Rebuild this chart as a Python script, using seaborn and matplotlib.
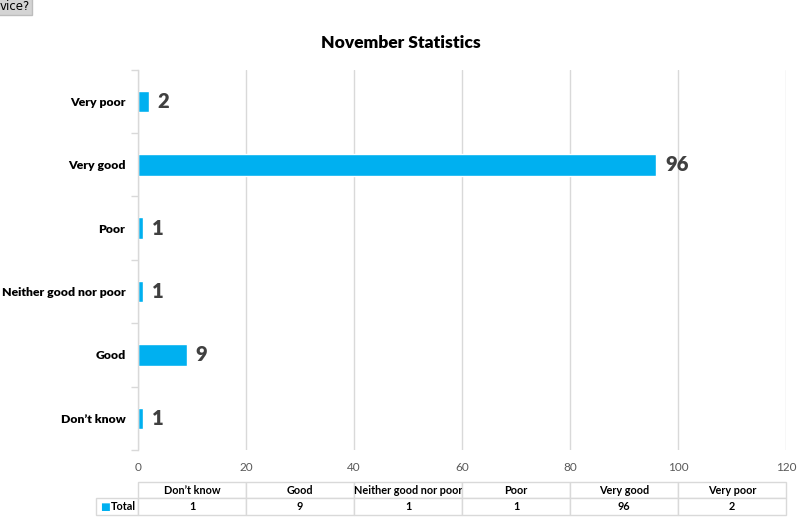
import matplotlib
matplotlib.use("Agg")
import matplotlib.pyplot as plt
import seaborn as sns
import pandas as pd

# values as shown in the data table under the chart
categories = ["Don\u2019t know", "Good", "Neither good nor poor", "Poor", "Very good", "Very poor"]
totals = [1, 9, 1, 1, 96, 2]
# bar order top to bottom
bar_order = ["Very poor", "Very good", "Poor", "Neither good nor poor", "Good", "Don\u2019t know"]
x_ticks = [0, 20, 40, 60, 80, 100, 120]
series_name = "Total"
title = "November Statistics"

BLUE = "#00B0F0"
GRID = "#d9d9d9"

sns.set_theme(style="white")
plt.rcParams["font.family"] = ["Lato", "DejaVu Sans"]

df = pd.DataFrame({"category": categories, "total": totals})

fig = plt.figure(figsize=(8.07, 5.21), dpi=100)
ax = fig.add_axes([0.171, 0.1363, 0.803, 0.730])

sns.barplot(data=df, y="category", x="total", order=bar_order, orient="h",
            color=BLUE, saturation=1, width=0.34, ax=ax)

ax.bar_label(ax.containers[0], padding=6.5, fontsize=14.5, fontweight="heavy",
             color="#404040")

ax.set_xlim(0, 120)
ax.set_xticks(x_ticks)
ax.set_ylim(len(bar_order) - 0.5, -0.5)
ax.set_xlabel("")
ax.set_ylabel("")

# vertical gridlines
ax.xaxis.grid(True, color=GRID, linewidth=1)
ax.set_axisbelow(True)
for s in ["top", "right", "bottom"]:
    ax.spines[s].set_visible(False)
ax.spines["left"].set_color(GRID)
ax.spines["left"].set_linewidth(1)

ax.tick_params(axis="x", length=0, labelsize=8.5, labelcolor="#595959", pad=9)
ax.tick_params(axis="y", which="major", length=0, labelsize=8.8, pad=9)
for lbl in ax.get_yticklabels():
    lbl.set_fontweight("heavy")
    lbl.set_color("black")
# small tick marks between categories
ax.set_yticks([i - 0.5 for i in range(len(bar_order) + 1)], minor=True)
ax.tick_params(axis="y", which="minor", length=5, color=GRID, width=1, left=True)

fig.text(0.497, 0.917, title, ha="center", va="center", fontsize=12.5,
         fontweight="heavy", color="black")

# data table under the axis
lab_w = 42 / 648
cell_text = [["", *categories], [series_name, *[str(v) for v in totals]]]
tbl = ax.table(cellText=cell_text, cellLoc="center",
               colWidths=[lab_w] + [1 / len(categories)] * len(categories),
               bbox=[-lab_w, -0.1708, 1 + lab_w, 0.0867])
tbl.auto_set_font_size(False)
for (r, c), cell in tbl.get_celld().items():
    cell.set_edgecolor(GRID)
    cell.set_linewidth(1)
    cell.get_text().set_fontsize(7.8)
    cell.get_text().set_fontweight("bold")
    cell.get_text().set_color("black")
    if r == 0 and c == 0:
        cell.visible_edges = ""
    if r == 1 and c == 0:
        cell.get_text().set_ha("right")
        cell._loc = "right"
        cell.PAD = 0.05
ax.text(-lab_w + 0.006, -0.1708 + 0.0867 * 0.25, "\u25a0", transform=ax.transAxes,
        color=BLUE, fontsize=7.5, ha="left", va="center", family="DejaVu Sans")

fig.text(0.0, 1.0, "vice?", ha="left", va="top", fontsize=8.5, color="black",
         family="DejaVu Sans",
         bbox=dict(boxstyle="square,pad=0.15", facecolor="#d4d4d4", edgecolor="#bdbdbd"))

fig.savefig("out.png", dpi=100, facecolor="white")
